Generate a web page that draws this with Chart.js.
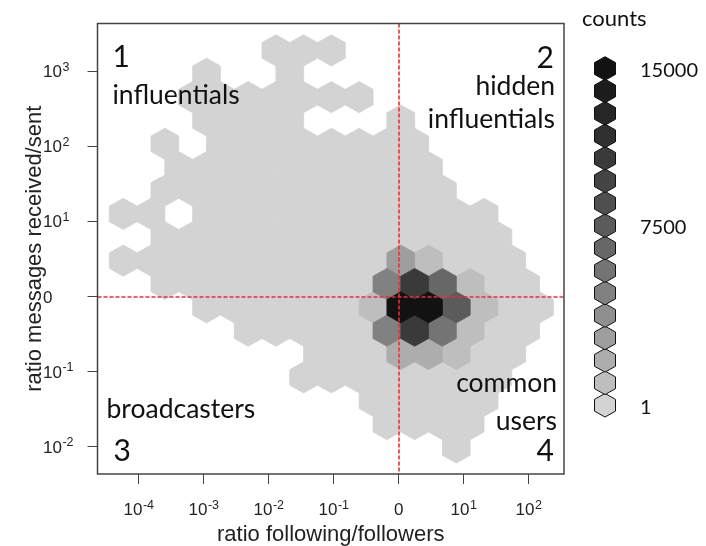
<!DOCTYPE html>
<html>
<head>
<meta charset="utf-8">
<script src="https://cdn.jsdelivr.net/npm/chart.js@4.4.0/dist/chart.umd.min.js"></script>
<style>
  html, body { margin: 0; padding: 0; background: #fff; }
</style>
</head>
<body>
<canvas id="hexChart" width="706" height="546"></canvas>
<script>
// hexbin grid, in log10 units
const gridX0 = 0.031, gridDx = 0.427
const gridY0 = -0.144, gridDy = 0.311

// low-count cells: grid row and column spans (odd rows sit on half columns)
const lightRows = [11, 10, 9, 8, 7, 6, 5, 4, 3, 2, 1, 0, -1, -2, -3, -4, -5, -6]
const lightSpans = [
    [[-4.5, -2.5]],
    [[-7, -7], [-4, -4]],
    [[-7.5, -1.5]],
    [[-7, -4], [0, 0]],
    [[-8.5, -8.5], [-6.5, 0.5]],
    [[-8, 1]],
    [[-8.5, 1.5]],
    [[-10, -9], [-7, 3]],
    [[-8.5, 3.5]],
    [[-10, 4]],
    [[-8.5, 4.5]],
    [[-7, 5]],
    [[-5.5, 4.5]],
    [[-3, 4]],
    [[-3.5, 3.5]],
    [[-1, 3]],
    [[-0.5, 2.5]],
    [[2, 2]]
]
const lightCount = 250

// the dense core
const denseRow = [2, 2, 1, 1, 1, 1, 0, 0, 0, 0, 0, -1, -1, -1, -1, -2, -2, -2]
const denseCol = [0, 1, -0.5, 0.5, 1.5, 2.5, -1, 0, 1, 2, 3, -0.5, 0.5, 1.5, 2.5, 0, 1, 2]
const denseCount = [3300, 1500, 5200, 11000, 6600, 1400, 1300, 14800, 14200, 8100, 1600, 5000, 10800, 5900, 1200, 2500, 2400, 1000]

const countMax = 15000
const countColors = [
    '#d3d3d3', '#bebebe', '#adadad', '#9e9e9e', '#8f8f8f', '#818181', '#747474', '#676767',
    '#5b5b5b', '#4f4f4f', '#444444', '#3a3a3a', '#303030', '#262626', '#1c1c1c', '#121212'
]
const legendTicks = [1, 7500, 15000]

// axis ticks in log10 units, labels as base + exponent
const xTicks = [-4, -3, -2, -1, 0, 1, 2]
const xTickBase = ['10', '10', '10', '10', '0', '10', '10']
const xTickExp = ['-4', '-3', '-2', '-1', '', '1', '2']
const yTicks = [-2, -1, 0, 1, 2, 3]
const yTickBase = ['10', '10', '0', '10', '10', '10']
const yTickExp = ['-2', '-1', '', '1', '2', '3']

const quadrantLabels = [['1', 'influentials'], ['2', 'hidden', 'influentials'], ['broadcasters', '3'], ['common', 'users', '4']]

function binOf(count) {
    return Math.min(countColors.length - 1, Math.floor(count / countMax * countColors.length))
}

// build the cell list
const cellMap = new Map()
lightRows.forEach((row, i) => {
    lightSpans[i].forEach(([a, b]) => {
        for (let c = a; c <= b; c++) cellMap.set(row + ':' + c, { row, col: c, count: lightCount })
    })
})
denseRow.forEach((row, i) => {
    cellMap.set(row + ':' + denseCol[i], { row, col: denseCol[i], count: denseCount[i] })
})
const cells = [...cellMap.values()]
    .sort((a, b) => a.count - b.count)
    .map(c => ({ x: gridX0 + c.col * gridDx, y: gridY0 + c.row * gridDy, count: c.count }))

const labelFont = "'Lato', 'Noto Sans', sans-serif"
const axisFont = "'Liberation Sans', 'DejaVu Sans', sans-serif"
const baseFont = '17px ' + axisFont, expFont = '12.5px ' + axisFont

function hexPath(ctx, cx, cy, hw, r) {
    ctx.beginPath()
    ctx.moveTo(cx, cy - r)
    ctx.lineTo(cx + hw, cy - r / 2)
    ctx.lineTo(cx + hw, cy + r / 2)
    ctx.lineTo(cx, cy + r)
    ctx.lineTo(cx - hw, cy + r / 2)
    ctx.lineTo(cx - hw, cy - r / 2)
    ctx.closePath()
}

// "10" with a raised exponent, starting at x
function powerLabel(ctx, base, exp, x, baseline) {
    ctx.font = baseFont
    ctx.fillText(base, x, baseline)
    if (!exp) return
    const bw = ctx.measureText(base).width
    ctx.font = expFont
    ctx.fillText(exp, x + bw + 0.5, baseline - 6.5)
}

function powerWidth(ctx, base, exp) {
    ctx.font = baseFont
    let w = ctx.measureText(base).width
    if (exp) {
        ctx.font = expFont
        w += ctx.measureText(exp).width + 0.5
    }
    return w
}

const hexbinPlugin = {
    id: 'hexbin',
    beforeDatasetsDraw(chart) {
        const { ctx, chartArea: area, scales: { x, y } } = chart
        const hw = gridDx / 2, r = gridDy / 1.5
        ctx.save()
        ctx.beginPath()
        ctx.rect(area.left, area.top, area.width, area.height)
        ctx.clip()
        chart.data.datasets[0].data.forEach(c => {
            const xl = x.getPixelForValue(c.x - hw), xm = x.getPixelForValue(c.x), xr = x.getPixelForValue(c.x + hw)
            const yt = y.getPixelForValue(c.y + r), y1 = y.getPixelForValue(c.y + r / 2)
            const y2 = y.getPixelForValue(c.y - r / 2), yb = y.getPixelForValue(c.y - r)
            ctx.beginPath()
            ctx.moveTo(xm, yt)
            ctx.lineTo(xr, y1)
            ctx.lineTo(xr, y2)
            ctx.lineTo(xm, yb)
            ctx.lineTo(xl, y2)
            ctx.lineTo(xl, y1)
            ctx.closePath()
            const col = countColors[binOf(c.count)]
            ctx.fillStyle = col
            ctx.fill()
            ctx.strokeStyle = col
            ctx.lineWidth = 0.8
            ctx.stroke()
        })
        ctx.restore()
    },
    afterDatasetsDraw(chart) {
        const { ctx, chartArea: area, scales: { x, y } } = chart
        ctx.save()

        // dashed red lines through 0
        ctx.strokeStyle = 'rgb(240, 45, 45)'
        ctx.lineWidth = 1.6
        ctx.setLineDash([4, 2])
        const x0 = Math.round(x.getPixelForValue(0))
        const y0 = Math.round(y.getPixelForValue(0))
        ctx.beginPath()
        ctx.moveTo(x0, area.top)
        ctx.lineTo(x0, area.bottom)
        ctx.stroke()
        ctx.beginPath()
        ctx.moveTo(area.left, y0)
        ctx.lineTo(area.right, y0)
        ctx.stroke()
        ctx.setLineDash([])

        // frame
        ctx.strokeStyle = '#444'
        ctx.lineWidth = 1.5
        ctx.strokeRect(area.left, area.top, area.width, area.height)

        // tick labels with exponents
        ctx.fillStyle = '#222'
        ctx.textAlign = 'left'
        ctx.textBaseline = 'alphabetic'
        xTicks.forEach((v, i) => {
            const w = powerWidth(ctx, xTickBase[i], xTickExp[i])
            powerLabel(ctx, xTickBase[i], xTickExp[i], x.getPixelForValue(v) - w / 2, area.bottom + 41)
        })
        yTicks.forEach((v, i) => {
            powerLabel(ctx, yTickBase[i], yTickExp[i], y.left, y.getPixelForValue(v) + 6)
        })

        // quadrant names
        ctx.fillStyle = '#111'
        const [q1, q2, q3, q4] = quadrantLabels
        const digitFont = '30px ' + labelFont, wordFont = '26.5px ' + labelFont
        ctx.textAlign = 'left'
        ctx.font = digitFont
        ctx.fillText(q1[0], area.left + 15, area.top + 43)
        ctx.fillText(q3[1], area.left + 16, area.bottom - 13)
        ctx.font = wordFont
        ctx.fillText(q1[1], area.left + 15, area.top + 80)
        ctx.fillText(q3[0], area.left + 9, area.bottom - 56)
        ctx.textAlign = 'right'
        ctx.font = digitFont
        ctx.fillText(q2[0], area.right - 10, area.top + 44)
        ctx.fillText(q4[2], area.right - 10, area.bottom - 13)
        ctx.font = wordFont
        ctx.fillText(q2[1], area.right - 9, area.top + 71)
        ctx.fillText(q2[2], area.right - 9, area.top + 104)
        ctx.fillText(q4[0], area.right - 7, area.bottom - 82)
        ctx.fillText(q4[1], area.right - 7, area.bottom - 44)

        // colour key
        const kx = area.right + 41, ktop = area.top + 45, kstep = 22.45
        ctx.textAlign = 'left'
        ctx.font = '22px ' + labelFont
        ctx.fillText('counts', area.right + 18, 26)
        ctx.strokeStyle = '#111'
        ctx.lineWidth = 1
        countColors.forEach((col, i) => {
            const ky = ktop + (countColors.length - 1 - i) * kstep
            hexPath(ctx, kx, ky, 10.5, 11.8)
            ctx.fillStyle = col
            ctx.fill()
            ctx.stroke()
        })
        ctx.fillStyle = '#111'
        ctx.font = '20px ' + labelFont
        ctx.textBaseline = 'middle'
        legendTicks.forEach(v => {
            const ky = ktop + (countColors.length - 1 - binOf(v)) * kstep
            ctx.fillText(String(v), area.right + 76, ky + 2)
        })
        ctx.restore()
    }
}

new Chart(document.getElementById('hexChart'), {
    type: 'scatter',
    data: {
        datasets: [{ data: cells, pointRadius: 0, pointHoverRadius: 0 }]
    },
    options: {
        responsive: false,
        animation: false,
        events: [],
        layout: { padding: { left: 43, top: 23.5, right: 142, bottom: 0 } },
        plugins: {
            legend: { display: false },
            tooltip: { enabled: false }
        },
        scales: {
            x: {
                type: 'linear',
                min: -4.635,
                max: 2.542,
                afterBuildTicks: s => { s.ticks = xTicks.map(v => ({ value: v })) },
                afterFit: s => { s.height = 72 },
                grid: { drawOnChartArea: false, tickLength: 10, color: '#444' },
                border: { display: false },
                ticks: { display: false },
                title: {
                    display: true,
                    text: 'ratio following/followers',
                    font: { family: axisFont, size: 22 },
                    color: '#222',
                    padding: { top: 0, bottom: -2 }
                }
            },
            y: {
                type: 'linear',
                min: -2.363,
                max: 3.635,
                afterBuildTicks: s => { s.ticks = yTicks.map(v => ({ value: v })) },
                afterFit: s => { s.width = 54.5 },
                grid: { drawOnChartArea: false, tickLength: 10, color: '#444' },
                border: { display: false },
                ticks: { display: false },
                title: {
                    display: true,
                    text: 'ratio messages received/sent',
                    font: { family: axisFont, size: 22 },
                    color: '#222',
                    padding: { top: -21, bottom: 0 }
                }
            }
        }
    },
    plugins: [hexbinPlugin]
})
</script>
</body>
</html>
